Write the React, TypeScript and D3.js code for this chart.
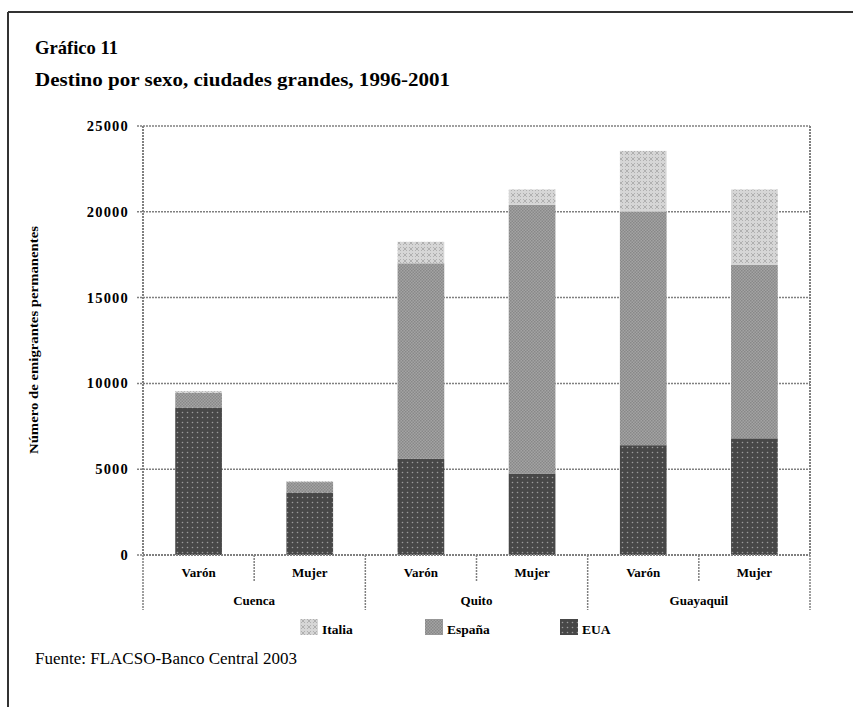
import React from "react";
import * as d3 from "d3";

const cities = ["Cuenca", "Quito", "Guayaquil"];
const sexes = ["Varón", "Mujer"];
const seriesNames = ["EUA", "España", "Italia"];
const eua = [8600, 3650, 5600, 4750, 6400, 6800];
const espana = [850, 600, 11400, 15650, 13600, 10100];
const italia = [100, 50, 1250, 900, 3550, 4400];
const yTicks = [0, 5000, 10000, 15000, 20000, 25000];

const W = 853;
const H = 707;
const M = { left: 143, right: 810, top: 126, bottom: 555 };

export default function App() {
  const cats = cities.flatMap((c) => sexes.map((s) => `${c}|${s}`));
  const x = d3.scaleBand<string>().domain(cats).range([M.left, M.right]).paddingInner(0).paddingOuter(0);
  const y = d3.scaleLinear().domain([0, 25000]).range([M.bottom, M.top]);
  const rows = cats.map((k, i) => ({ key: k, EUA: eua[i], "España": espana[i], Italia: italia[i] }));
  const stack = d3.stack<any>().keys(seriesNames)(rows);
  const fills: Record<string, string> = { EUA: "url(#pEUA)", "España": "url(#pESP)", Italia: "url(#pITA)" };
  const bw = x.bandwidth() * 0.42;
  const serif = "'Liberation Serif', 'DejaVu Serif', serif";
  const grid = "#808080";
  const legend = [
    { name: "Italia", x: 300 },
    { name: "España", x: 425 },
    { name: "EUA", x: 560 },
  ];
  const groupW = x.bandwidth() * 2;
  return (
    <svg width={W} height={H} style={{ position: "absolute", left: 0, top: 0, background: "#fff" }}>
      <defs>
        <pattern id="pEUA" width="5" height="5" patternUnits="userSpaceOnUse">
          <rect width="5" height="5" fill="#474747" />
          <circle cx="2.5" cy="2.5" r="0.8" fill="#9a9a9a" />
        </pattern>
        <pattern id="pESP" width="3" height="3" patternUnits="userSpaceOnUse">
          <rect width="3" height="3" fill="#a4a4a4" />
          <rect width="1.5" height="1.5" fill="#888" />
          <rect x="1.5" y="1.5" width="1.5" height="1.5" fill="#888" />
        </pattern>
        <pattern id="pITA" width="6" height="6" patternUnits="userSpaceOnUse">
          <rect width="6" height="6" fill="#d6d6d6" />
          <path d="M1,1 L5,5 M5,1 L1,5" stroke="#b0b0b0" strokeWidth="1" />
        </pattern>
      </defs>
      {/* frame */}
      <line x1={8} y1={12} x2={W} y2={12} stroke="#333" strokeWidth={2} />
      <line x1={8} y1={12} x2={8} y2={H} stroke="#333" strokeWidth={2} />
      {/* titles */}
      <text x={35} y={54} fontFamily={serif} fontWeight="bold" fontSize={19} textLength={83} lengthAdjust="spacingAndGlyphs">Gráfico 11</text>
      <text x={35} y={86} fontFamily={serif} fontWeight="bold" fontSize={19} textLength={415} lengthAdjust="spacingAndGlyphs">Destino por sexo, ciudades grandes, 1996-2001</text>
      {/* gridlines */}
      {yTicks.map((t) => (
        <g key={t}>
          <line x1={M.left - 6} x2={M.right} y1={y(t)} y2={y(t)} stroke={grid} strokeWidth={1.5} strokeDasharray="2,1" />
          <text x={129} y={y(t) + 5} textAnchor="end" fontFamily={serif} fontWeight="bold" fontSize={14.5} letterSpacing={1.2}>{t}</text>
        </g>
      ))}
      <line x1={M.left} x2={M.left} y1={M.top} y2={M.bottom} stroke={grid} strokeWidth={2} strokeDasharray="2,1" />
      <line x1={M.right} x2={M.right} y1={M.top} y2={M.bottom} stroke={grid} strokeWidth={2} strokeDasharray="2,1" />
      {/* bars */}
      {stack.map((s) => (
        <g key={s.key}>
          {s.map((d, i) => (
            <rect
              key={i}
              x={(x(cats[i]) as number) + (x.bandwidth() - bw) / 2}
              width={bw}
              y={y(d[1])}
              height={Math.max(0, y(d[0]) - y(d[1]))}
              fill={fills[s.key]}
            />
          ))}
        </g>
      ))}
      <line x1={M.left} x2={M.right} y1={M.bottom} y2={M.bottom} stroke={grid} strokeWidth={2} strokeDasharray="2,1" />
      {/* x axis */}
      {cats.map((k, i) => (
        <g key={k}>
          <text x={(x(k) as number) + x.bandwidth() / 2} y={577} textAnchor="middle" fontFamily={serif} fontWeight="bold" fontSize={13}>
            {k.split("|")[1]}
          </text>
          {i % 2 === 1 && (
            <line x1={x(k) as number} x2={x(k) as number} y1={M.bottom} y2={582} stroke={grid} strokeWidth={1.5} strokeDasharray="2,1" />
          )}
        </g>
      ))}
      {cities.map((c) => {
        const x0 = x(`${c}|Varón`) as number;
        return (
          <g key={c}>
            <line x1={x0} x2={x0} y1={M.bottom} y2={610} stroke={grid} strokeWidth={1.5} strokeDasharray="2,1" />
            <text x={x0 + groupW / 2} y={605} textAnchor="middle" fontFamily={serif} fontWeight="bold" fontSize={13}>{c}</text>
          </g>
        );
      })}
      <line x1={M.right} x2={M.right} y1={M.bottom} y2={610} stroke={grid} strokeWidth={1.5} strokeDasharray="2,1" />
      {/* y label */}
      <text transform={`translate(38,340) rotate(-90)`} textAnchor="middle" fontFamily={serif} fontWeight="bold" fontSize={13} textLength={228} lengthAdjust="spacingAndGlyphs">
        Número de emigrantes permanentes
      </text>
      {/* legend */}
      {legend.map((l) => (
        <g key={l.name}>
          <rect x={l.x} y={619} width={18} height={16} fill={fills[l.name]} />
          <text x={l.x + 22} y={634} fontFamily={serif} fontWeight="bold" fontSize={13.5}>{l.name}</text>
        </g>
      ))}
      {/* source */}
      <text x={35} y={664} fontFamily={serif} fontSize={16} textLength={262} lengthAdjust="spacingAndGlyphs">Fuente: FLACSO-Banco Central 2003</text>
    </svg>
  );
}
